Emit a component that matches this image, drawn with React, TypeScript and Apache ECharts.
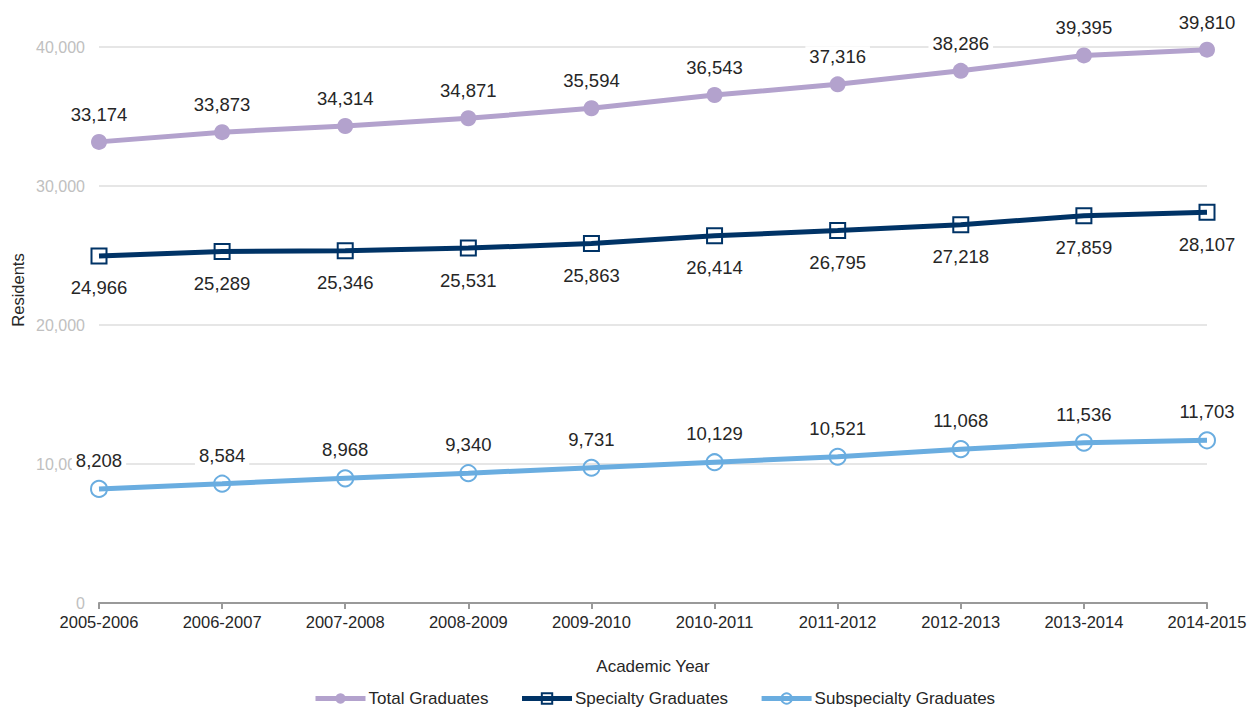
import React, { useEffect, useRef } from "react";
import * as echarts from "echarts";

const years = ["2005-2006", "2006-2007", "2007-2008", "2008-2009", "2009-2010", "2010-2011", "2011-2012", "2012-2013", "2013-2014", "2014-2015"];
const totalGraduates = [33174, 33873, 34314, 34871, 35594, 36543, 37316, 38286, 39395, 39810];
const specialtyGraduates = [24966, 25289, 25346, 25531, 25863, 26414, 26795, 27218, 27859, 28107];
const subspecialtyGraduates = [8208, 8584, 8968, 9340, 9731, 10129, 10521, 11068, 11536, 11703];

const fmt = (v: number) => v.toLocaleString("en-US");
const FONT = "Liberation Sans, Arial, sans-serif";

export default function App() {
  const ref = useRef<HTMLDivElement>(null);
  useEffect(() => {
    if (!ref.current) return;
    const chart = echarts.init(ref.current, null, { renderer: "svg" });
    const labelBase = {
      show: true,
      fontSize: 18.5,
      color: "#262626",
      fontFamily: FONT,
      backgroundColor: "#ffffff",
      padding: [1, 4],
      formatter: (p: any) => fmt(p.value),
    };
    chart.setOption({
      animation: false,
      textStyle: { fontFamily: FONT },
      grid: { left: 99, right: 50, top: 47, bottom: 105 },
      legend: {
        top: 690,
        left: 313,
        padding: 0,
        itemWidth: 50,
        itemHeight: 13,
        itemGap: 31,
        lineStyle: { width: 5 },
        textStyle: { fontSize: 17, color: "#262626", padding: [0, 0, 0, -2] },
        data: ["Total Graduates", "Specialty Graduates", "Subspecialty Graduates"],
      },
      graphic: [
        {
          type: "text",
          x: 18,
          y: 290,
          rotation: Math.PI / 2,
          style: {
            text: "Residents",
            fontSize: 16.5,
            fontFamily: FONT,
            fill: "#262626",
            align: "center",
            verticalAlign: "middle",
          },
        },
      ],
      xAxis: {
        type: "category",
        data: years,
        boundaryGap: false,
        name: "Academic Year",
        nameLocation: "middle",
        nameGap: 55,
        nameTextStyle: { fontSize: 17, color: "#262626" },
        axisLine: { lineStyle: { color: "#999999", width: 2 } },
        axisTick: { show: true, alignWithLabel: true, length: 6, lineStyle: { color: "#999999", width: 2 } },
        axisLabel: { fontSize: 16.5, color: "#262626", margin: 10 },
      },
      yAxis: {
        type: "value",
        min: 0,
        max: 40000,
        interval: 10000,
        axisLine: { show: false },
        axisTick: { show: false },
        axisLabel: { fontSize: 16, color: "#c0c0c0", margin: 14, formatter: (v: number) => fmt(v) },
        splitLine: { lineStyle: { color: "#e6e6e6", width: 2 } },
      },
      series: [
        {
          name: "Total Graduates",
          type: "line",
          data: totalGraduates,
          symbol: "circle",
          symbolSize: 16,
          lineStyle: { color: "#b3a2cd", width: 5 },
          itemStyle: { color: "#b3a2cd" },
          label: { ...labelBase, position: "top", distance: 9 },
          z: 3,
        },
        {
          name: "Specialty Graduates",
          type: "line",
          data: specialtyGraduates,
          symbol: "rect",
          symbolSize: 15,
          lineStyle: { color: "#003366", width: 5 },
          itemStyle: { color: "rgba(255,255,255,0)", borderColor: "#003366", borderWidth: 2 },
          label: { ...labelBase, position: "bottom", distance: 13 },
          z: 3,
        },
        {
          name: "Subspecialty Graduates",
          type: "line",
          data: subspecialtyGraduates,
          symbol: "circle",
          symbolSize: 16,
          lineStyle: { color: "#6aade0", width: 5 },
          itemStyle: { color: "rgba(255,255,255,0)", borderColor: "#6aade0", borderWidth: 2 },
          label: { ...labelBase, position: "top", distance: 9 },
          z: 3,
        },
      ],
    });
    return () => chart.dispose();
  }, []);
  return <div ref={ref} style={{ width: 1257, height: 708, position: "absolute", left: 0, top: 0 }} />;
}
